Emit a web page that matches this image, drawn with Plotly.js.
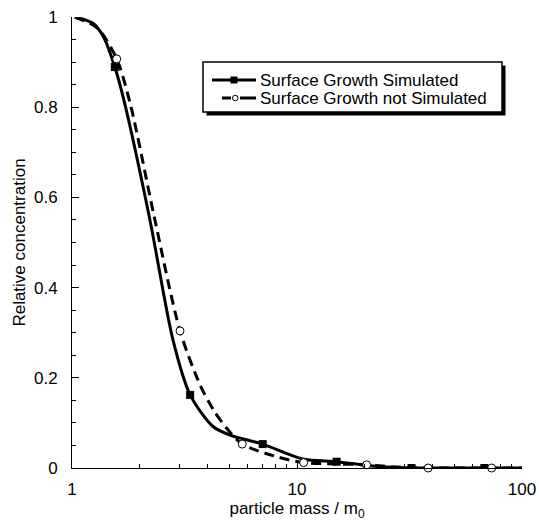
<!DOCTYPE html>
<html><head><meta charset="utf-8">
<script src="https://cdn.plot.ly/plotly-3.0.1.min.js"></script>
<style>html,body{margin:0;padding:0;background:#fff}</style>
</head><body><div id="chart" style="width:539px;height:525px"></div>
<script>
// Series names
const seriesNames = ['Surface Growth Simulated', 'Surface Growth not Simulated'];

// Curve (surface growth simulated)
const simCurveX = [1.03, 1.24, 1.38, 1.55, 1.70, 2.22, 2.81, 3.35, 4.23, 5.04, 7.04, 10.6, 15.0, 20.0, 25.0, 32.3, 68, 100];
const simCurveY = [1.0, 0.986, 0.956, 0.889, 0.816, 0.55, 0.284, 0.162, 0.092, 0.073, 0.053, 0.02, 0.014, 0.006, 0.002, 0.0, 0.0, 0.0];
// Marked points on the solid line
const simMarkX = [1.55, 3.35, 7.04, 15.0, 32.3, 68];
const simMarkY = [0.889, 0.162, 0.053, 0.014, 0.0, 0.0];

// Curve (surface growth not simulated)
const noSimCurveX = [1.03, 1.30, 1.58, 1.82, 2.32, 3.02, 3.71, 4.25, 4.87, 5.71, 8.13, 10.7, 15.0, 20.4, 28.0, 38.3, 73.3, 100];
const noSimCurveY = [1.0, 0.975, 0.907, 0.805, 0.557, 0.304, 0.184, 0.129, 0.088, 0.053, 0.025, 0.012, 0.009, 0.007, 0.002, 0.0, 0.0, 0.0];
// Marked points on the dashed line
const noSimMarkX = [1.58, 3.02, 5.71, 10.7, 20.4, 38.3, 73.3];
const noSimMarkY = [0.907, 0.304, 0.053, 0.012, 0.007, 0.0, 0.0];

// Axis texts
const xTitle = 'particle mass / m<sub>0</sub>';
const yTitle = 'Relative concentration';

const FONT = '"Liberation Sans", Arial, sans-serif';
const W = 539, H = 525;
const M = {l: 72, r: 17, t: 17, b: 57};
const PW = W - M.l - M.r, PH = H - M.t - M.b;
const px = function (v) { return (v - M.l) / PW; };      // pixel -> paper x
const py = function (v) { return 1 - (v - M.t) / PH; };  // pixel -> paper y

const solidLine = {color: '#000', width: 3, shape: 'spline', smoothing: 0.8};
const dashLine = {color: '#000', width: 3, dash: '10px,6px', shape: 'spline', smoothing: 0.8};
const squareMarker = {symbol: 'square', size: 8, color: '#000', line: {width: 0}};
const circleMarker = {symbol: 'circle', size: 8, color: '#fff', line: {color: '#000', width: 1}};

const data = [
  {x: noSimCurveX, y: noSimCurveY, mode: 'lines', line: dashLine, name: seriesNames[1], showlegend: false, hoverinfo: 'skip'},
  {x: simCurveX, y: simCurveY, mode: 'lines', line: solidLine, name: seriesNames[0], showlegend: false, hoverinfo: 'skip'},
  {x: simMarkX, y: simMarkY, mode: 'markers', marker: squareMarker, name: seriesNames[0], showlegend: false},
  {x: noSimMarkX, y: noSimMarkY, mode: 'markers', marker: circleMarker, name: seriesNames[1], showlegend: false, cliponaxis: false}
];

// Legend box (drawn by hand to match the original framed legend with drop shadow)
const box = {x0: 203, x1: 502, y0: 62, y1: 112};
const shadowOff = 3.5;
const row1 = 80, row2 = 98;
const shapes = [
  {type: 'rect', xref: 'paper', yref: 'paper', layer: 'above',
   x0: px(box.x0 + shadowOff), x1: px(box.x1 + shadowOff), y0: py(box.y0 + shadowOff), y1: py(box.y1 + shadowOff),
   fillcolor: '#000', line: {width: 0}},
  {type: 'rect', xref: 'paper', yref: 'paper', layer: 'above',
   x0: px(box.x0), x1: px(box.x1), y0: py(box.y0), y1: py(box.y1),
   fillcolor: '#fff', line: {color: '#000', width: 1.5}},
  // row 1 sample: solid line + square
  {type: 'line', xref: 'paper', yref: 'paper', layer: 'above',
   x0: px(212), x1: px(256), y0: py(row1), y1: py(row1), line: {color: '#000', width: 3}},
  {type: 'rect', xref: 'paper', yref: 'paper', layer: 'above',
   x0: px(230.5), x1: px(237.5), y0: py(row1 - 3.5), y1: py(row1 + 3.5), fillcolor: '#000', line: {width: 0}},
  // row 2 sample: dashed line + open circle
  {type: 'line', xref: 'paper', yref: 'paper', layer: 'above',
   x0: px(222), x1: px(231), y0: py(row2), y1: py(row2), line: {color: '#000', width: 3}},
  {type: 'line', xref: 'paper', yref: 'paper', layer: 'above',
   x0: px(240), x1: px(256), y0: py(row2), y1: py(row2), line: {color: '#000', width: 3}},
  {type: 'circle', xref: 'paper', yref: 'paper', layer: 'above',
   x0: px(232.5), x1: px(238), y0: py(row2 - 2.75), y1: py(row2 + 2.75), fillcolor: '#fff', line: {color: '#000', width: 1}}
];
const annotations = [
  {xref: 'paper', yref: 'paper', x: px(258), y: py(row1 + 1), xanchor: 'left', yanchor: 'middle',
   text: seriesNames[0], showarrow: false, font: {family: FONT, size: 17, color: '#000'}},
  {xref: 'paper', yref: 'paper', x: px(258), y: py(row2 + 0.5), xanchor: 'left', yanchor: 'middle',
   text: seriesNames[1], showarrow: false, font: {family: FONT, size: 17, color: '#000'}}
];

const layout = {
  width: W, height: H,
  margin: M,
  paper_bgcolor: '#fff', plot_bgcolor: '#fff',
  font: {family: FONT, size: 17, color: '#000'},
  showlegend: false,
  shapes: shapes,
  annotations: annotations,
  xaxis: {
    type: 'log', range: [0, 2], dtick: 1,
    showgrid: false, zeroline: false,
    showline: true, linecolor: '#000', linewidth: 1,
    ticks: 'inside', ticklen: 7, tickwidth: 1, tickcolor: '#000',
    minor: {dtick: 'D1', ticks: 'inside', ticklen: 4, tickwidth: 1, tickcolor: '#000', showgrid: false},
    tickfont: {family: FONT, size: 17},
    ticklabelstandoff: 6,
    exponentformat: 'none',
    title: {text: xTitle, font: {family: FONT, size: 17}, standoff: 2}
  },
  yaxis: {
    range: [0, 1], dtick: 0.2,
    showgrid: false, zeroline: false,
    showline: true, linecolor: '#000', linewidth: 1,
    ticks: 'inside', ticklen: 7, tickwidth: 1, tickcolor: '#000',
    minor: {dtick: 0.05, ticks: 'inside', ticklen: 4, tickwidth: 1, tickcolor: '#000', showgrid: false},
    tickfont: {family: FONT, size: 17},
    ticklabelstandoff: 10,
    title: {text: yTitle, font: {family: FONT, size: 17}, standoff: 4}
  }
};

Plotly.newPlot('chart', data, layout, {displayModeBar: false, staticPlot: true});
</script></body></html>
